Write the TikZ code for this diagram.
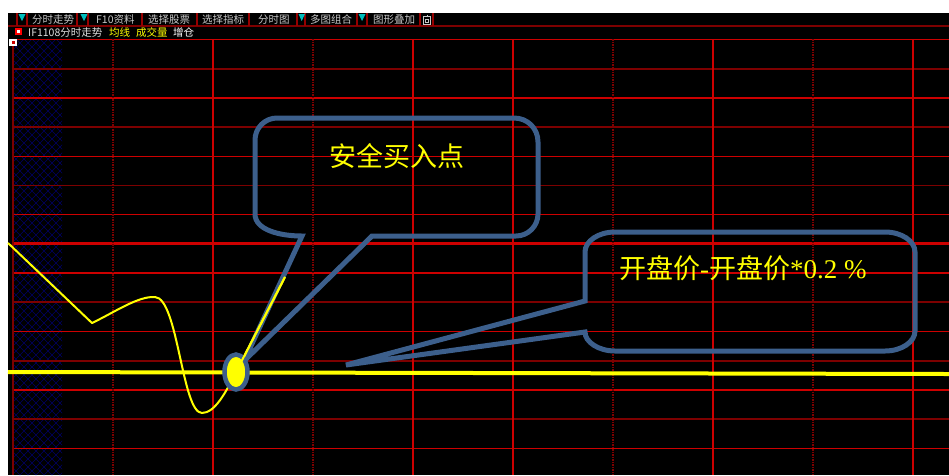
\documentclass[tikz,border=0pt]{standalone}
\usepackage{fontspec}
\usetikzlibrary{shapes.geometric}
\setmainfont{Liberation Serif}
\newfontfamily\cjk{Noto Sans CJK SC}
\definecolor{gridred}{RGB}{205,0,0}
\definecolor{griddark}{RGB}{125,0,0}
\definecolor{cbblue}{RGB}{60,95,140}
\definecolor{tbgray}{RGB}{200,200,200}
\definecolor{tbsep}{RGB}{150,0,0}
\definecolor{hatchblue}{RGB}{0,0,100}
\definecolor{tcyan}{RGB}{0,190,190}
\definecolor{pyellow}{RGB}{255,255,0}
\begin{document}
\begin{tikzpicture}[x=1pt,y=-1pt,
  gridbright/.style={draw=gridred, line width=1.3pt},
  griddim/.style={draw=griddark, line width=1.8pt},
  gridsolid/.style={draw=gridred, line width=1.5pt},
  griddot/.style={draw=griddark, line width=1.5pt, dash pattern=on 1.5pt off 1pt},
  callout/.style={draw=cbblue, line width=5pt},
  tbtext/.style={text=tbgray, font=\cjk\fontsize{10.5}{12}\selectfont, inner sep=0pt, anchor=base west},
  hltext/.style={tbtext, text=pyellow},
  bigtext/.style={text=pyellow, font=\fontsize{27}{30}\selectfont, inner sep=0pt},
  tbsepline/.style={draw=tbsep, line width=1.2pt},
  tri/.style={fill=tcyan},
  price/.style={draw=pyellow, line width=2pt, line join=round},
]
\useasboundingbox (0,0) rectangle (949,475);
\fill[white] (0,0) rectangle (949,475);
\fill[black] (8,13) rectangle (949,475);

% hatch area
\begin{scope}
  \clip (13,39) rectangle (62,475);
  \foreach \a in {-440,-432,...,520} {
    \draw[hatchblue, line width=0.6pt] (\a,39) -- ++(436,436);
    \draw[hatchblue, line width=0.6pt] (\a,39) -- ++(-436,436);
  }
\end{scope}

% grid horizontal
\foreach \k in {0,2,4,6,8,10,12,14} {
  \draw[gridbright] (13,{39.5+29.2*\k}) -- (949,{39.5+29.2*\k});
}
\foreach \k in {1,3,5,9,11,13} {
  \draw[griddim] (13,{39.5+29.2*\k}) -- (949,{39.5+29.2*\k});
}
\draw[draw=gridred, line width=2.6pt] (13,243.7) -- (949,243.7);
% grid vertical
\foreach \x in {213,413,713,913} {\draw[gridsolid] (\x,39) -- (\x,475);}
\foreach \x in {113,313,613,813} {\draw[griddot] (\x,39) -- (\x,475);}
\draw[draw=gridred, line width=2pt] (513,39) -- (513,475);
\draw[draw=griddark, line width=2pt] (13,39) -- (13,475);

% toolbar
\draw[draw=griddark, line width=1.2pt] (8,26) -- (949,26);
\foreach \x in {17,27,77,88,142,197,249,297,305,357,367,420,433} {
  \draw[tbsepline] (\x,13) -- (\x,26);
}
\fill[tri] (18.5,14) -- (25.5,14) -- (22,21) -- cycle;
\fill[tri] (80.5,14) -- (87.5,14) -- (84,21) -- cycle;
\fill[tri] (298.5,14) -- (305,14) -- (301.7,21) -- cycle;
\fill[tri] (358.5,14) -- (365.5,14) -- (362,21) -- cycle;
\node[tbtext] (tb1) at (32,23.5) {分时走势};
\node[tbtext] (tb2) at (96,23.5) {F10资料};
\node[tbtext] (tb3) at (148,23.5) {选择股票};
\node[tbtext] (tb4) at (202,23.5) {选择指标};
\node[tbtext] (tb5) at (258,23.5) {分时图};
\node[tbtext] (tb6) at (310,23.5) {多图组合};
\node[tbtext] (tb7) at (373,23.5) {图形叠加};
% small icon
\draw[tbgray, line width=0.8pt] (423.5,16.5) rectangle (430.5,24.5);
\draw[tbgray, line width=0.8pt] (425.5,19) rectangle (428.5,22.5);
\draw[tbgray, line width=0.8pt] (427,14.5) -- (427,16.5);

% second row
\fill[red] (15,28) rectangle (22,35);
\fill[white] (17,30) rectangle (20,33);
\node[tbtext, text=white!88!black] (r1) at (28,36.5) {IF1108分时走势};
\node[hltext] (r2) at (109,36.5) {均线};
\node[hltext] (r3) at (136,36.5) {成交量};
\node[tbtext, text=white] (r4) at (173,36.5) {增仓};
\fill[white] (9,38.5) rectangle (17,45.5);
\fill[red!80!black] (11.5,40.5) rectangle (14.5,43.5);

% open price line
\draw[draw=pyellow, line width=4pt] (8,372) -- (949,374);

% callout 1
\draw[callout] (302,236) .. controls (280,236) and (255,230) .. (255,214)
  -- (255,140) .. controls (255,127.9) and (264.9,118) .. (277,118)
  -- (514,118) .. controls (527.2,118) and (538,128) .. (538,142)
  -- (538,214) .. controls (538,226.1) and (528.1,236) .. (516,236)
  -- (372,236) -- (244,361) -- cycle;
\node[bigtext, anchor=base] (txt1) at (397,166) {\cjk 安全买入点};

% callout 2
\draw[callout] (585,301) -- (585,252) .. controls (585,241) and (598.5,232) .. (615,232)
  -- (885,232) .. controls (901.5,232) and (915,241) .. (915,252)
  -- (915,331) .. controls (915,342) and (901.5,351) .. (885,351)
  -- (615,351) .. controls (598.5,351) and (585,342) .. (585,332)
  -- (346,365) -- cycle;
\node[bigtext, anchor=base west] (txt2) at (619,278) {{\cjk 开盘价}-{\cjk 开盘价}*0.2 \%};

% price curve
\draw[price] (8,243) -- (92,323) .. controls (115,312) and (138,296) .. (155,297)
  .. controls (178,298) and (182,413) .. (202,413)
  .. controls (215,413) and (226,392) .. (236,372) -- (285,277);

% buy point marker
\node[draw=cbblue, line width=4.5pt, fill=pyellow, ellipse, minimum width=23pt, minimum height=35pt, inner sep=0pt] (buy) at (236,372) {};
\draw[draw=pyellow, line width=2pt] (buy.center) -- (285,277);
\end{tikzpicture}
\end{document}
